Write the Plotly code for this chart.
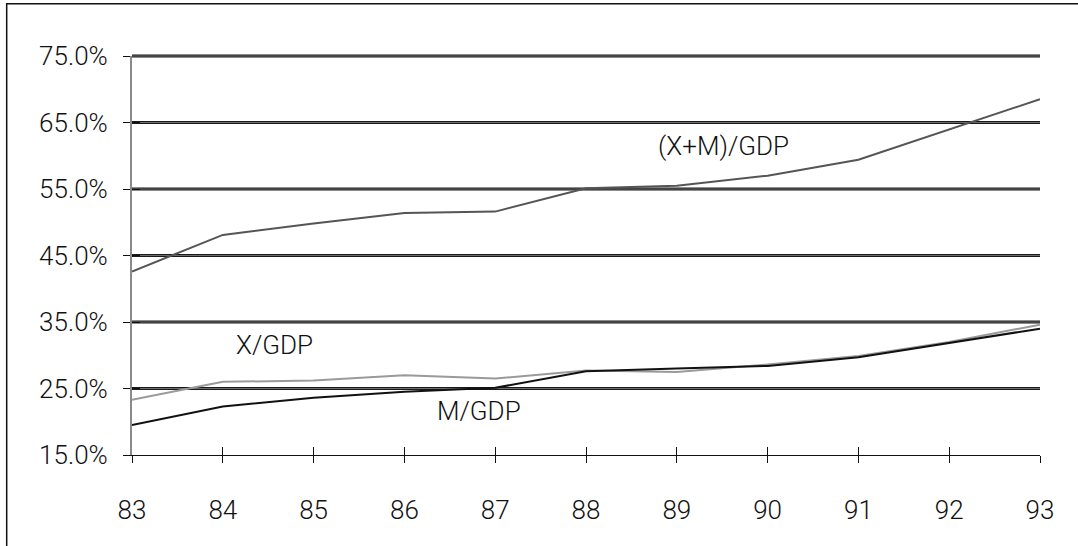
import plotly.graph_objects as go

years = [83, 84, 85, 86, 87, 88, 89, 90, 91, 92, 93]
trade_gdp = [42.6, 48.1, 49.8, 51.4, 51.6, 55.1, 55.5, 57.0, 59.4, 64.0, 68.5]
export_gdp = [23.3, 26.0, 26.2, 27.0, 26.5, 27.7, 27.5, 28.6, 29.9, 32.0, 34.6]
import_gdp = [19.5, 22.3, 23.6, 24.5, 25.1, 27.6, 28.0, 28.4, 29.7, 31.8, 34.0]

y_ticks = [15, 25, 35, 45, 55, 65, 75]
x_ticks = years
y_range = [15, 75]
x_range = [83, 93]

labels = ["(X+M)/GDP", "X/GDP", "M/GDP"]
label_x = [89.51, 84.57, 86.82]
label_y = [61.4, 31.6, 21.6]

FONT = "Roboto, 'Liberation Sans', sans-serif"

fig = go.Figure()

# double-style horizontal gridlines (dark edges, grey centre), in paper units
for v in y_ticks[1:]:
    py = (v - y_range[0]) / (y_range[1] - y_range[0])
    fig.add_shape(type="line", xref="paper", yref="paper", x0=0, x1=1, y0=py, y1=py,
                  line=dict(color="#1a1a1a", width=3), layer="below")
    fig.add_shape(type="line", xref="paper", yref="paper", x0=0, x1=1, y0=py, y1=py,
                  line=dict(color="#6e6e6e", width=1), layer="below")

fig.add_trace(go.Scatter(x=years, y=trade_gdp, mode="lines",
                         line=dict(color="#555555", width=2), name=labels[0]))
fig.add_trace(go.Scatter(x=years, y=export_gdp, mode="lines",
                         line=dict(color="#9a9a9a", width=2), name=labels[1]))
fig.add_trace(go.Scatter(x=years, y=import_gdp, mode="lines",
                         line=dict(color="#111111", width=2), name=labels[2]))

for t, xx, yy in zip(labels, label_x, label_y):
    fig.add_annotation(x=xx, y=yy, text=t, showarrow=False,
                       font=dict(family=FONT, size=26, color="#111111", weight=300))

fig.update_layout(
    width=1078, height=546,
    margin=dict(l=132, r=38, t=56, b=91),
    paper_bgcolor="white", plot_bgcolor="white",
    showlegend=False,
    font=dict(family=FONT, size=26, color="#111111"),
    xaxis=dict(range=x_range, tickvals=x_ticks, ticktext=[str(v) for v in x_ticks],
               showgrid=False, zeroline=False,
               showline=True, linecolor="#111111", linewidth=1,
               ticks="outside", ticklen=7, tickcolor="#111111", tickwidth=1,
               ticklabelstandoff=25,
               tickfont=dict(family=FONT, size=26, color="#111111", weight=300)),
    yaxis=dict(range=y_range, tickvals=y_ticks,
               ticktext=[f"{v:.1f}%" for v in y_ticks],
               showgrid=False, zeroline=False,
               showline=True, linecolor="#8a8a8a", linewidth=2,
               ticks="outside", ticklen=7, tickcolor="#111111", tickwidth=1,
               ticklabelstandoff=10,
               tickfont=dict(family=FONT, size=26, color="#111111", weight=300)),
    xaxis2=dict(overlaying="x", matches="x", range=x_range, tickvals=x_ticks,
                showticklabels=False, showgrid=False, showline=False, zeroline=False,
                ticks="inside", ticklen=8, tickcolor="#111111", tickwidth=1),
    yaxis2=dict(overlaying="y", matches="y", range=y_range, tickvals=y_ticks,
                showticklabels=False, showgrid=False, showline=False, zeroline=False,
                ticks="inside", ticklen=8, tickcolor="#111111", tickwidth=1),
)

# dummy trace to activate overlay axes for crossing tick marks
fig.add_trace(go.Scatter(x=[years[0]], y=[y_ticks[0]], xaxis="x2", yaxis="y2",
                         mode="markers", marker=dict(opacity=0), hoverinfo="skip",
                         showlegend=False))

# outer chart frame (top and left edges visible, others beyond the image)
fig.add_shape(type="rect", xref="paper", yref="paper",
              x0=-0.138, x1=1.2, y0=-0.5, y1=1.131,
              line=dict(color="#111111", width=1.5), fillcolor="rgba(0,0,0,0)",
              layer="below")

fig.write_html("out.html", config={"displayModeBar": False},
               post_script="document.body.style.margin='0px';")
